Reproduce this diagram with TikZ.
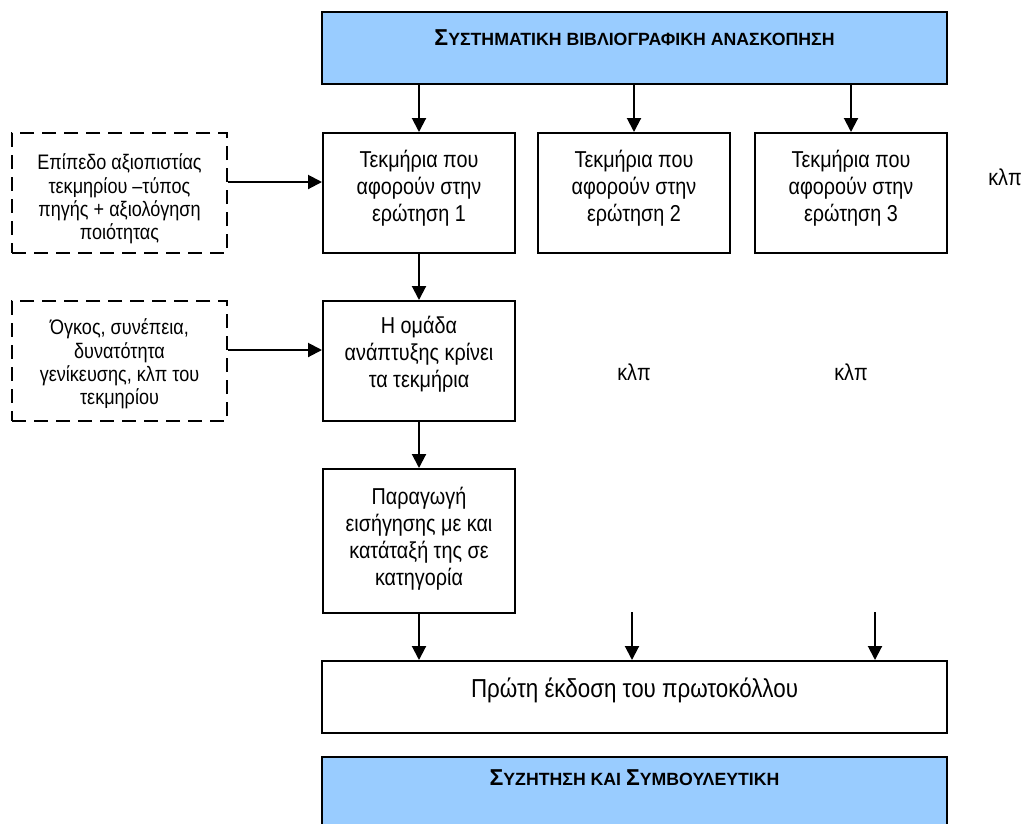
\documentclass[tikz,border=0pt]{standalone}
\usepackage{fontspec}
\setmainfont{Liberation Sans}[FakeStretch=0.86]
\newfontfamily\headfont{Liberation Sans}
\usetikzlibrary{arrows.meta}
\definecolor{panelblue}{RGB}{153,204,255}
\tikzset{
  box/.style={draw, line width=2pt, inner sep=0pt},
  stepbox/.style={box, minimum width=192pt, minimum height=120pt},
  widebox/.style={box, minimum width=625pt, minimum height=72pt},
  headbox/.style={widebox, fill=panelblue},
  notebox/.style={box, dash pattern=on 14pt off 8pt, minimum width=215pt, minimum height=120pt},
  body/.style={align=center, inner sep=0pt, font=\fontsize{23}{27}\selectfont},
  note/.style={align=center, inner sep=0pt, font=\fontsize{21}{23.3}\selectfont},
  headtext/.style={inner sep=0pt, anchor=base, font=\headfont\bfseries\fontsize{17.7}{18}\selectfont},
  flow/.style={line width=2pt, -{Triangle[length=14pt,width=14pt]}},
}
\newcommand{\bigsigma}{{\fontsize{23}{23}\selectfont Σ}}

\begin{document}
\begin{tikzpicture}[x=1pt,y=-1pt]
\useasboundingbox (0,0) rectangle (1022,823);
\clip (0,0) rectangle (1022,823);

% header
\node[headbox] (review) at (634.5,48) {};
\node[headtext] (reviewtitle) at (634.5,45) {\bigsigma ΥΣΤΗΜΑΤΙΚΗ ΒΙΒΛΙΟΓΡΑΦΙΚΗ ΑΝΑΣΚΟΠΗΣΗ};

% evidence per question
\node[stepbox] (q1) at (419,193) {};
\node[body] (q1t) at (419,188) {Τεκμήρια που\\αφορούν στην\\ερώτηση 1};
\node[stepbox] (q2) at (634,193) {};
\node[body] (q2t) at (634,188) {Τεκμήρια που\\αφορούν στην\\ερώτηση 2};
\node[stepbox] (q3) at (851,193) {};
\node[body] (q3t) at (851,188) {Τεκμήρια που\\αφορούν στην\\ερώτηση 3};
\node[body, anchor=base] (etc0) at (1005,185) {κλπ};

% notes on the left
\node[notebox] (n1) at (119.5,193) {};
\node[note] (n1t) at (119.5,199) {Επίπεδο αξιοπιστίας\\τεκμηρίου –τύπος\\πηγής + αξιολόγηση\\ποιότητας};
\node[notebox] (n2) at (119.5,361) {};
\node[note] (n2t) at (119.5,364) {Όγκος, συνέπεια,\\δυνατότητα\\γενίκευσης, κλπ του\\τεκμηρίου};

% judgement and recommendation
\node[stepbox] (judge) at (419,361) {};
\node[body] (judget) at (419,354) {Η ομάδα\\ανάπτυξης κρίνει\\τα τεκμήρια};
\node[body, anchor=base] (etc1) at (634,380) {κλπ};
\node[body, anchor=base] (etc2) at (851,380) {κλπ};
\node[stepbox, minimum height=144pt] (rec) at (419,541) {};
\node[body] (rect) at (419,539) {Παραγωγή\\εισήγησης με και\\κατάταξή της σε\\κατηγορία};

% first version and discussion
\node[widebox] (draft) at (634.5,697) {};
\node[inner sep=0pt, anchor=base, font=\fontsize{26}{26}\selectfont] (draftt) at (634.5,697) {Πρώτη έκδοση του πρωτοκόλλου};
\node[headbox, minimum height=90pt] (talk) at (634.5,802) {};
\node[headtext] (talkt) at (634.5,785) {\bigsigma ΥΖΗΤΗΣΗ ΚΑΙ \bigsigma ΥΜΒΟΥΛΕΥΤΙΚΗ};

% free ends and arrow heights
\coordinate (in2) at (632,612);
\coordinate (in3) at (875,612);
\coordinate (link1) at (0,182);
\coordinate (link2) at (0,350);

% connectors
\draw[flow] (review.south -| q1) -- (q1.north);
\draw[flow] (review.south -| q2) -- (q2.north);
\draw[flow] (review.south -| q3) -- (q3.north);
\draw[flow] (n1.east |- link1) -- (q1.west |- link1);
\draw[flow] (n2.east |- link2) -- (judge.west |- link2);
\draw[flow] (q1.south) -- (judge.north);
\draw[flow] (judge.south) -- (rec.north);
\draw[flow] (rec.south) -- (draft.north -| rec);
\draw[flow] (in2) -- (draft.north -| in2);
\draw[flow] (in3) -- (draft.north -| in3);
\end{tikzpicture}
\end{document}
